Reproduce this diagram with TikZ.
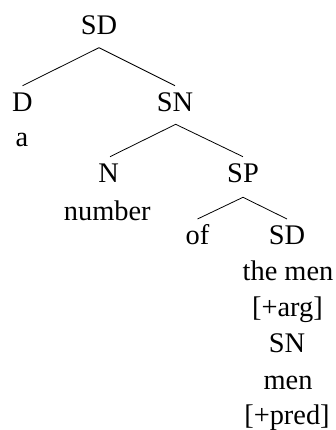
\documentclass[tikz,border=0pt]{standalone}
\usepackage{fontspec}
\setmainfont{Liberation Serif}
\begin{document}
\begin{tikzpicture}[x=1pt,y=-1pt,
  lbl/.style={anchor=base,inner sep=0pt,font=\fontsize{28.4}{34}\selectfont},
  branch/.style={line width=0.8pt}]
\useasboundingbox (0,0) rectangle (335,430);
% labels, placed by their baselines
\node[lbl] (sd0) at (99,35) {SD};
\node[lbl] (d) at (22.5,112) {D};
\node[lbl] (sn1) at (175,112) {SN};
\node[lbl] (a) at (22,147) {a};
\node[lbl] (n) at (108.7,182.7) {N};
\node[lbl] (sp) at (243,182.7) {SP};
\node[lbl] (number) at (107.3,220) {number};
\node[lbl] (of) at (197.5,244.3) {of};
\node[lbl] (sd2) at (287,244.3) {SD};
\node[lbl] (themen) at (288,280) {the men};
\node[lbl] (arg) at (287.5,316) {[+arg]};
\node[lbl] (sn3) at (287,352.7) {SN};
\node[lbl] (men) at (288,389) {men};
\node[lbl] (pred) at (287,424) {[+pred]};
% branches
\draw[branch] ([yshift=26.3pt]d.base) -- ([yshift=-12.7pt]sd0.base) -- ([yshift=26.3pt]sn1.base);
\draw[branch] ([xshift=1.3pt,yshift=26pt]n.base) -- ([xshift=0.7pt,yshift=-12.3pt]sn1.base) -- ([yshift=26pt]sp.base);
\draw[branch] ([yshift=25.3pt]of.base) -- ([yshift=-14.6pt]sp.base) -- ([yshift=25.3pt]sd2.base);
\end{tikzpicture}
\end{document}
